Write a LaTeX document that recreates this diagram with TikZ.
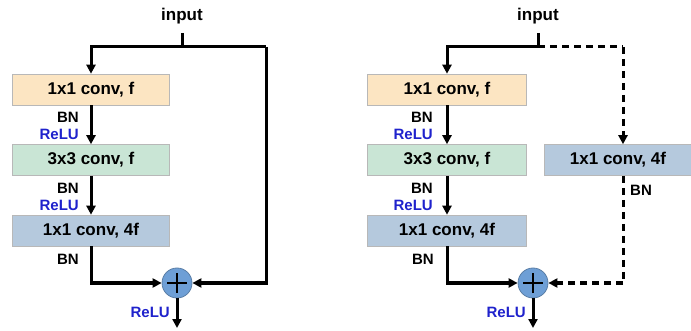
\documentclass[tikz,border=0pt]{standalone}
\usepackage{fontspec}
\setmainfont{Liberation Sans}
\usetikzlibrary{arrows.meta}
\definecolor{boxorange}{HTML}{FCE5C2}
\definecolor{boxgreen}{HTML}{C9E5D5}
\definecolor{boxblue}{HTML}{B5C9DD}
\definecolor{sumblue}{HTML}{6E9FD6}
\definecolor{sumedge}{HTML}{5A7EA6}
\definecolor{relublue}{HTML}{1F22CC}
\definecolor{boxedge}{HTML}{B8B8B8}
\begin{document}
\begin{tikzpicture}[x=1pt,y=-1pt,
  convbox/.style={draw=boxedge,line width=0.6pt,minimum height=31pt,inner sep=0pt,
    font=\fontsize{17}{19}\selectfont\bfseries},
  lbl/.style={font=\fontsize{15}{17}\selectfont\bfseries,inner sep=0pt},
  relu/.style={lbl,text=relublue},
  conn/.style={line width=3pt},
  arr/.style={conn,-{Triangle[length=9pt,width=9pt]}},
  dconn/.style={conn,dash pattern=on 7pt off 5pt},
  darr/.style={dconn,-{Triangle[length=9pt,width=9pt]}},
  sum/.style={circle,draw=sumedge,line width=0.8pt,fill=sumblue,minimum size=30pt,inner sep=0pt},
]
\useasboundingbox (0,0) rectangle (691,331);

% ---------------- left block ----------------
\node[font=\fontsize{17}{19}\selectfont\bfseries] (inA) at (182,16) {input};
\coordinate (sA) at (182,33);
\coordinate (tA) at (182,47);
\coordinate (rA) at (266,47);
\node[convbox,fill=boxorange,minimum width=157pt] (a1) at (91,89.5) {1x1 conv, f};
\node[convbox,fill=boxgreen,minimum width=157pt] (a2) at (91,160) {3x3 conv, f};
\node[convbox,fill=boxblue,minimum width=157pt] (a3) at (91,230.5) {1x1 conv, 4f};
\node[sum] (pA) at (177,283) {};
\draw[line width=2.8pt] ([xshift=-10pt]pA.center) -- ([xshift=10pt]pA.center)
  ([yshift=-10pt]pA.center) -- ([yshift=10pt]pA.center);
\coordinate (oA) at (177,328);

\draw[conn] (sA) -- (tA);
\draw[arr] ([xshift=1.5pt]tA) -| (a1.north);
\draw[conn] ([xshift=-1.5pt]tA) -- (rA);
\draw[arr] (rA) |- (pA.east);
\draw[arr] (a1.south) -- (a2.north);
\draw[arr] (a2.south) -- (a3.north);
\draw[arr] (a3.south) |- (pA.west);
\draw[arr] (pA.south) -- (oA);

\node[lbl,anchor=east] (bnA1) at (79,117) {BN};
\node[relu,anchor=east] (reA1) at (79,134) {ReLU};
\node[lbl,anchor=east] (bnA2) at (79,188) {BN};
\node[relu,anchor=east] (reA2) at (79,205) {ReLU};
\node[lbl,anchor=east] (bnA3) at (79,259) {BN};
\node[relu,anchor=east] (reA4) at (170,312) {ReLU};

% ---------------- right block ----------------
\node[font=\fontsize{17}{19}\selectfont\bfseries] (inB) at (538,16) {input};
\coordinate (sB) at (538,33);
\coordinate (tB) at (538,47);
\coordinate (rB) at (623,47);
\node[convbox,fill=boxorange,minimum width=159pt] (b1) at (447,89.5) {1x1 conv, f};
\node[convbox,fill=boxgreen,minimum width=159pt] (b2) at (447,160) {3x3 conv, f};
\node[convbox,fill=boxblue,minimum width=159pt] (b3) at (447,230.5) {1x1 conv, 4f};
\node[convbox,fill=boxblue,minimum width=148pt] (b4) at (618,160) {1x1 conv, 4f};
\node[sum] (pB) at (533,283) {};
\draw[line width=2.8pt] ([xshift=-10pt]pB.center) -- ([xshift=10pt]pB.center)
  ([yshift=-10pt]pB.center) -- ([yshift=10pt]pB.center);
\coordinate (oB) at (533,328);
\coordinate (cB) at (623,283);

\draw[conn] (sB) -- (tB);
\draw[arr] ([xshift=1.5pt]tB) -| (b1.north);
\draw[dconn] (tB) -- (rB);
\draw[darr] (rB) -- (rB |- b4.north);
\draw[dconn] (rB |- b4.south) -- (cB);
\draw[darr] (cB) -- (pB.east);
\draw[arr] (b1.south) -- (b2.north);
\draw[arr] (b2.south) -- (b3.north);
\draw[arr] (b3.south) |- (pB.west);
\draw[arr] (pB.south) -- (oB);

\node[lbl,anchor=east] (bnB1) at (433,117) {BN};
\node[relu,anchor=east] (reB1) at (433,134) {ReLU};
\node[lbl,anchor=east] (bnB2) at (433,188) {BN};
\node[relu,anchor=east] (reB2) at (433,205) {ReLU};
\node[lbl,anchor=east] (bnB3) at (434,259) {BN};
\node[lbl,anchor=west] (bnB4) at (630,190) {BN};
\node[relu,anchor=east] (reB4) at (526,312) {ReLU};
\end{tikzpicture}
\end{document}
